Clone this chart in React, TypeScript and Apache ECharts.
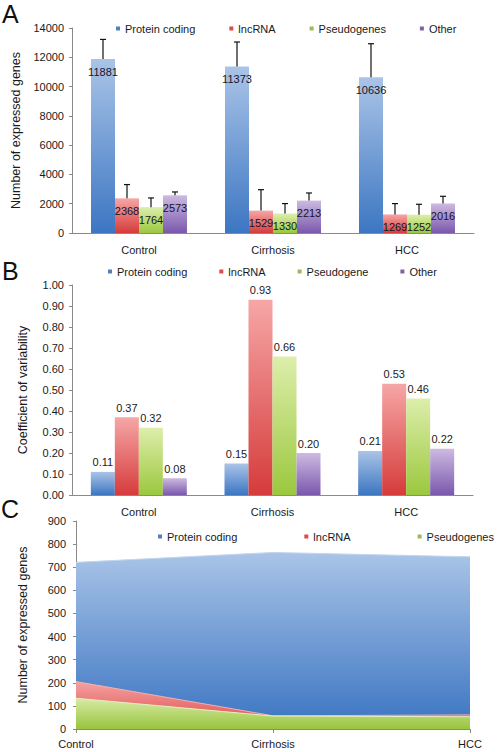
import React, { useEffect, useRef } from "react";
import * as echarts from "echarts";

const categories = ["Control", "Cirrhosis", "HCC"];

// Panel A: number of expressed genes
const namesA = ["Protein coding", "lncRNA", "Pseudogenes", "Other"];
const countProtein = [11881, 11373, 10636];
const countLnc = [2368, 1529, 1269];
const countPseudo = [1764, 1330, 1252];
const countOther = [2573, 2213, 2016];
const errProtein = [1340, 1670, 2290];
const errLnc = [940, 1430, 740];
const errPseudo = [630, 680, 710];
const errOther = [230, 520, 490];

// Panel B: coefficient of variability
const namesB = ["Protein coding", "lncRNA", "Pseudogene", "Other"];
const cvProtein = [0.11, 0.15, 0.21];
const cvLnc = [0.37, 0.93, 0.53];
const cvPseudo = [0.32, 0.66, 0.46];
const cvOther = [0.08, 0.2, 0.22];

// Panel C: area
const namesC = ["Protein coding", "lncRNA", "Pseudogenes"];
const areaProtein = [721, 764, 745];
const areaLnc = [205, 57, 61];
const areaPseudo = [133, 56, 53];

const FONT = "Liberation Sans, Arial, sans-serif";
const TXT = "#1a1a1a";
const AX = "#8a8a8a";
const BAR_W = 24;

const grad = (top: string, bottom: string) =>
  new echarts.graphic.LinearGradient(0, 0, 0, 1, [
    { offset: 0, color: top },
    { offset: 1, color: bottom },
  ]);

const BLUE = ["#aac4e7", "#3c76c2"];
const RED = ["#f6a6a6", "#d63b3b"];
const GREEN = ["#ddeeab", "#9bc83e"];
const PURPLE = ["#cdbae1", "#7a58ad"];
const SOLID = ["#4f81bd", "#e04a4a", "#9bbb59", "#8064a2"];

export default function App() {
  const ref = useRef<HTMLDivElement>(null);
  useEffect(() => {
    document.body.style.margin = "0";
    const chart = echarts.init(ref.current!, null, { renderer: "svg" });

    const palette = [BLUE, RED, GREEN, PURPLE];
    const aVals = [countProtein, countLnc, countPseudo, countOther];
    const aErr = [errProtein, errLnc, errPseudo, errOther];
    const bVals = [cvProtein, cvLnc, cvPseudo, cvOther];

    const errData: number[][] = [];
    aVals.forEach((arr, k) =>
      arr.forEach((v, i) => errData.push([i, v, aErr[k][i], k]))
    );

    const yAxisCommon = {
      axisLine: { show: true, lineStyle: { color: AX } },
      axisTick: { show: true, length: 3, lineStyle: { color: AX } },
      splitLine: { show: false },
      axisLabel: {
        color: TXT,
        fontSize: 11,
        fontFamily: FONT,
        margin: 8,
        formatter: (v: number) => String(v),
      },
      nameLocation: "middle" as const,
      nameRotate: 90,
      nameTextStyle: { color: TXT, fontSize: 12.5, fontFamily: FONT },
    };
    const xAxisCommon = {
      type: "category" as const,
      data: categories,
      axisLine: { lineStyle: { color: AX } },
      axisTick: { length: 4, lineStyle: { color: AX } },
      axisLabel: { color: TXT, fontSize: 11, fontFamily: FONT, margin: 11 },
    };
    const legendCommon = {
      icon: "rect",
      itemWidth: 4,
      itemHeight: 4,
      padding: 0,
      width: 420,
      orient: "horizontal" as const,
      textStyle: { color: TXT, fontSize: 11, fontFamily: FONT },
      selectedMode: false,
    };

    const series: any[] = [];
    aVals.forEach((arr, k) => {
      series.push({
        type: "bar",
        name: namesA[k],
        xAxisIndex: 0,
        yAxisIndex: 0,
        barWidth: BAR_W,
        barGap: "0%",
        data: arr,
        itemStyle: { color: grad(palette[k][0], palette[k][1]) },
        label: {
          show: true,
          position: "insideTop",
          distance: 7,
          color: "#15152a",
          fontSize: 11,
          fontFamily: FONT,
        },
      });
    });
    series.push({
      type: "custom",
      name: "errors",
      xAxisIndex: 0,
      yAxisIndex: 0,
      z: 5,
      data: errData,
      encode: { x: 0, y: 1 },
      renderItem: (_p: any, api: any) => {
        const k = api.value(3);
        const base = api.coord([api.value(0), api.value(1)]);
        const top = api.coord([api.value(0), api.value(1) + api.value(2)]);
        const x = base[0] + (k - 1.5) * BAR_W;
        const st = { stroke: "#111", lineWidth: 1.2 };
        return {
          type: "group",
          children: [
            { type: "line", shape: { x1: x, y1: base[1], x2: x, y2: top[1] }, style: st },
            { type: "line", shape: { x1: x - 3, y1: top[1], x2: x + 3, y2: top[1] }, style: st },
          ],
        };
      },
    });
    bVals.forEach((arr, k) => {
      series.push({
        type: "bar",
        name: namesB[k],
        xAxisIndex: 1,
        yAxisIndex: 1,
        barWidth: BAR_W,
        barGap: "0%",
        data: arr,
        itemStyle: { color: grad(palette[k][0], palette[k][1]) },
        label: {
          show: true,
          position: "top",
          distance: 4,
          color: TXT,
          fontSize: 11,
          fontFamily: FONT,
          formatter: (p: any) => Number(p.value).toFixed(2),
        },
      });
    });
    const cVals = [areaProtein, areaLnc, areaPseudo];
    const cGrad = [
      ["#a9c4e7", "#3a74c2"],
      ["#f4a2a2", "#e04646"],
      ["#d8eaa6", "#98c43c"],
    ];
    cVals.forEach((arr, k) => {
      series.push({
        type: "line",
        name: namesC[k],
        xAxisIndex: 2,
        yAxisIndex: 2,
        data: arr,
        symbol: "none",
        z: 2 + k,
        lineStyle: { width: 1, color: k === 0 ? "#c4d6ee" : k === 1 ? "#f3b0b0" : "#e6f0c4" },
        areaStyle: { color: grad(cGrad[k][0], cGrad[k][1]), opacity: 1 },
      });
    });

    chart.setOption({
      animation: false,
      textStyle: { fontFamily: FONT },
      graphic: [
        { type: "text", left: 2, top: 1, style: { text: "A", font: `25px ${FONT}`, fill: "#111" } },
        { type: "text", left: 2, top: 258, style: { text: "B", font: `25px ${FONT}`, fill: "#111" } },
        { type: "text", left: 1, top: 496, style: { text: "C", font: `25px ${FONT}`, fill: "#111" } },
      ],
      legend: [
        {
          ...legendCommon,
          left: 116,
          top: 23,
          itemGap: 34,
          data: namesA.map((n, k) => ({ name: n, itemStyle: { color: SOLID[k] } })),
        },
        {
          ...legendCommon,
          left: 108,
          top: 266,
          itemGap: 32,
          data: namesB.map((n, k) => ({ name: n, itemStyle: { color: SOLID[k] } })),
        },
        {
          ...legendCommon,
          left: 158,
          top: 531,
          itemGap: 67,
          data: namesC.map((n, k) => ({ name: n, itemStyle: { color: SOLID[k] } })),
        },
      ],
      grid: [
        { left: 72, width: 402, top: 28, height: 205 },
        { left: 72, width: 401, top: 285, height: 210 },
        { left: 76, width: 394, top: 521, height: 208 },
      ],
      xAxis: [
        { ...xAxisCommon, gridIndex: 0 },
        { ...xAxisCommon, gridIndex: 1 },
        {
          ...xAxisCommon,
          gridIndex: 2,
          boundaryGap: false,
          axisLabel: { ...xAxisCommon.axisLabel, margin: 9 },
        },
      ],
      yAxis: [
        {
          ...yAxisCommon,
          type: "value",
          gridIndex: 0,
          min: 0,
          max: 14000,
          interval: 2000,
          name: "Number of expressed genes",
          nameGap: 43,
        },
        {
          ...yAxisCommon,
          type: "value",
          gridIndex: 1,
          min: 0,
          max: 1,
          interval: 0.1,
          name: "Coefficient of variability",
          nameGap: 43,
          axisLabel: { ...yAxisCommon.axisLabel, formatter: (v: number) => v.toFixed(2) },
        },
        {
          ...yAxisCommon,
          type: "value",
          gridIndex: 2,
          min: 0,
          max: 900,
          interval: 100,
          name: "Number of expressed genes",
          nameGap: 47,
          axisLabel: { ...yAxisCommon.axisLabel, margin: 10 },
        },
      ],
      series,
    });
    return () => chart.dispose();
  }, []);
  return <div ref={ref} style={{ width: 500, height: 752 }} />;
}
